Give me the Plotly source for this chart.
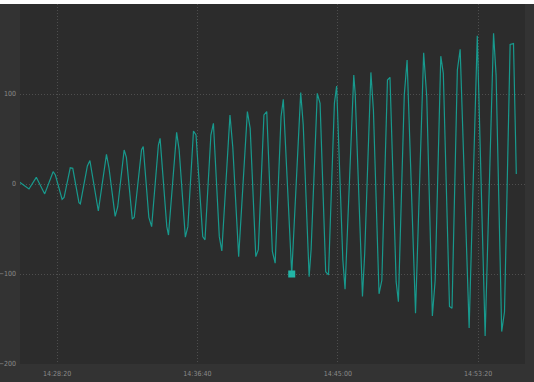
import pandas as pd
import plotly.graph_objects as go

# Reference time for offsets (the 14:28:20 tick)
base_time = "2024-01-01 14:28:20"

# Sample times, seconds relative to base_time
t_offsets = [
    -133, -100, -74, -44, -14, -6, 18, 25, 47, 56, 78, 83, 108, 117, 147, 176, 185,
    207, 216, 239, 247, 268, 275, 301, 307, 327, 337, 361, 367, 391, 397, 426, 435,
    457, 466, 486, 495, 519, 527, 548, 557, 578, 587, 616, 626, 647, 678, 688, 708,
    717, 737, 747, 767, 777, 798, 806, 836, 868, 877, 898, 905, 927, 937, 957, 967,
    988, 996, 1018, 1026, 1057, 1062, 1088, 1096, 1118, 1127, 1147, 1157, 1177, 1186,
    1208, 1216, 1237, 1247, 1277, 1306, 1317, 1337, 1347, 1367, 1376, 1398, 1407,
    1426, 1436, 1468, 1497, 1525, 1555, 1564, 1584, 1594, 1614, 1626, 1636,
]

# Series values
values = [
    2, -5.5, 7.4, -11, 13.7, 10, -17, -15, 18, 17.4, -20.7, -22, 20, 26, -30, 33, 17.8,
    -36, -25.5, 37.8, 29.6, -39, -37, 38, 41.5, -37, -47.4, 43.3, 50.7, -47.4, -56.7, 57.4, 37.8,
    -59, -47.4, 58.9, 54.4, -58.5, -62, 54.4, 67.4, -58.5, -74.4, 76.7, 41, -80.7, 80.4, 62, -80.7,
    -73, 76.7, 80.4, -75, -88, 75, 94, -100, 101.5, 65.6, -103, -73, 100.7, 89.6, -97.4, -101,
    89.6, 108.9, -84, -117, 121, 101, -125, -77, 124, 82, -122, -107, 115.6, 118.5,
    -108.5, -130.7, 99, 137.8, -143.7, 145.9, 97, -146.7, -107, 142, 123, -136, -138,
    126.7, 149.6, -160, 164.8, -169, 167.4, 121, -164, -142, 155, 156, 11,
]

# Highlighted point (index into the series)
highlight_index = 56

# Axis settings
y_ticks = [-200, -100, 0, 100, 200]
x_range_offsets = [-132, 1667]
x_tick_step_s = 500

base = pd.Timestamp(base_time)
times = [base + pd.Timedelta(seconds=s) for s in t_offsets]
x_range = [base + pd.Timedelta(seconds=s) for s in x_range_offsets]

line_color = "#18998d"
grid_color = "#4e4e4e"
grid_dash = "1px,2px"
tick_font = dict(family="Liberation Sans Narrow, DejaVu Sans Condensed, Liberation Sans, sans-serif",
                 size=7, color="#8a8a8a")

fig = go.Figure()
fig.add_trace(go.Scatter(
    x=times, y=values, mode="lines",
    line=dict(color=line_color, width=1.2),
    hoverinfo="skip", showlegend=False,
))
fig.add_trace(go.Scatter(
    x=[times[highlight_index]], y=[values[highlight_index]], mode="markers",
    marker=dict(symbol="square", size=7, color="#22b5a6"),
    hoverinfo="skip", showlegend=False,
))

fig.update_layout(
    width=534, height=378,
    margin=dict(l=20, r=9, t=0, b=18, autoexpand=False),
    paper_bgcolor="#333333",
    plot_bgcolor="#2c2c2c",
    showlegend=False,
)
fig.update_xaxes(
    type="date", range=x_range, automargin=False,
    tick0=base, dtick=x_tick_step_s * 1000, tickformat="%H:%M:%S",
    showgrid=True, gridcolor=grid_color, griddash=grid_dash, gridwidth=1,
    zeroline=False, showline=False, ticks="", tickfont=tick_font, ticklabelstandoff=4,
)
fig.update_yaxes(
    range=[-200, 200], tickvals=y_ticks, automargin=False,
    showgrid=True, gridcolor=grid_color, griddash=grid_dash, gridwidth=1,
    zeroline=False, showline=False, ticks="", tickfont=tick_font, ticklabelstandoff=3,
)

page_js = ("document.body.style.margin='4px 0 0 0';"
           "document.body.style.overflow='hidden';"
           "document.body.style.background='#ffffff';")

fig.write_html("out.html", post_script=page_js)
